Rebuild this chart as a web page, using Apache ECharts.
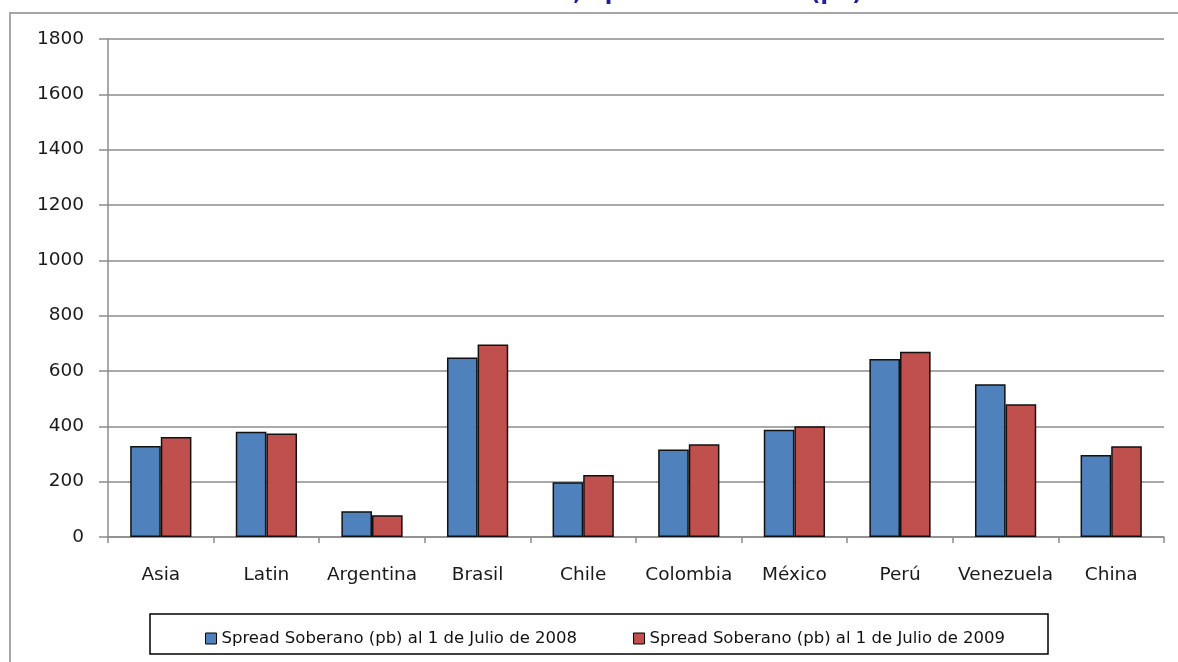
<!DOCTYPE html>
<html>
<head>
<meta charset="utf-8">
<script src="https://cdn.jsdelivr.net/npm/echarts@6/dist/echarts.min.js"></script>
<style>
  html, body { margin: 0; padding: 0; background: #fff; }
  #main { width: 1178px; height: 662px; }
</style>
</head>
<body>
<div id="main"></div>
<script>
// datos
var categories = ['Asia', 'Latin', 'Argentina', 'Brasil', 'Chile', 'Colombia', 'México', 'Perú', 'Venezuela', 'China'];
var spread2008 = [329, 380, 93, 649, 198, 316, 388, 643, 552, 296];
var spread2009 = [361, 374, 79, 696, 224, 335, 400, 670, 480, 328];
var seriesNames = ['Spread Soberano (pb) al 1 de Julio de 2008', 'Spread Soberano (pb) al 1 de Julio de 2009'];
var titleText = 'EMBI Global, Spread Soberano (pb)';

var myChart = echarts.init(document.getElementById('main'));
var font = 'DejaVu Sans';

var option = {
  backgroundColor: '#fff',
  animation: false,
  graphic: [
    {
      type: 'rect',
      shape: { x: 10, y: 13, width: 1200, height: 700 },
      style: { fill: 'none', stroke: '#a6a6a6', lineWidth: 2 }
    },
    {
      type: 'text',
      x: 862, y: -6,
      style: {
        text: titleText,
        fill: '#1f1f9e',
        font: 'bold 22px "' + font + '"',
        textAlign: 'right',
        textVerticalAlign: 'middle'
      }
    },
    {
      type: 'rect',
      shape: { x: 150, y: 614, width: 898, height: 40 },
      style: { fill: 'none', stroke: '#000', lineWidth: 1.5 }
    }
  ],
  legend: {
    left: 200,
    top: 625,
    itemWidth: 11,
    itemHeight: 11,
    itemGap: 56,
    icon: 'rect',
    textStyle: { fontFamily: font, fontSize: 16.5, color: '#111' },
    itemStyle: { borderColor: '#000', borderWidth: 1 },
    data: seriesNames
  },
  grid: { left: 108, right: 14, top: 39, bottom: 125 },
  xAxis: {
    type: 'category',
    data: categories,
    axisLine: { lineStyle: { color: '#8c8c8c', width: 1.5 } },
    axisTick: { show: true, length: 6, lineStyle: { color: '#8c8c8c', width: 1.5 } },
    axisLabel: { interval: 0, fontFamily: font, fontSize: 18.5, color: '#1a1a1a', margin: 29 }
  },
  yAxis: {
    type: 'value',
    min: 0,
    max: 1800,
    interval: 200,
    axisLine: { show: true, lineStyle: { color: '#8c8c8c', width: 1.5 } },
    axisTick: { show: true, length: 9, lineStyle: { color: '#8c8c8c', width: 1.5 } },
    axisLabel: {
      fontFamily: font, fontSize: 18.5, color: '#1a1a1a', margin: 24,
      formatter: function (v) { return String(v); }
    },
    splitLine: { lineStyle: { color: '#8c8c8c', width: 1.5 } }
  },
  series: [
    {
      name: seriesNames[0],
      type: 'bar',
      data: spread2008,
      barGap: '0%',
      barCategoryGap: '42%',
      itemStyle: { color: '#4f81bd', borderColor: '#111', borderWidth: 1.5 }
    },
    {
      name: seriesNames[1],
      type: 'bar',
      data: spread2009,
      barGap: '0%',
      barCategoryGap: '42%',
      itemStyle: { color: '#c0504d', borderColor: '#111', borderWidth: 1.5 }
    }
  ]
};
myChart.setOption(option);
</script>
</body>
</html>
